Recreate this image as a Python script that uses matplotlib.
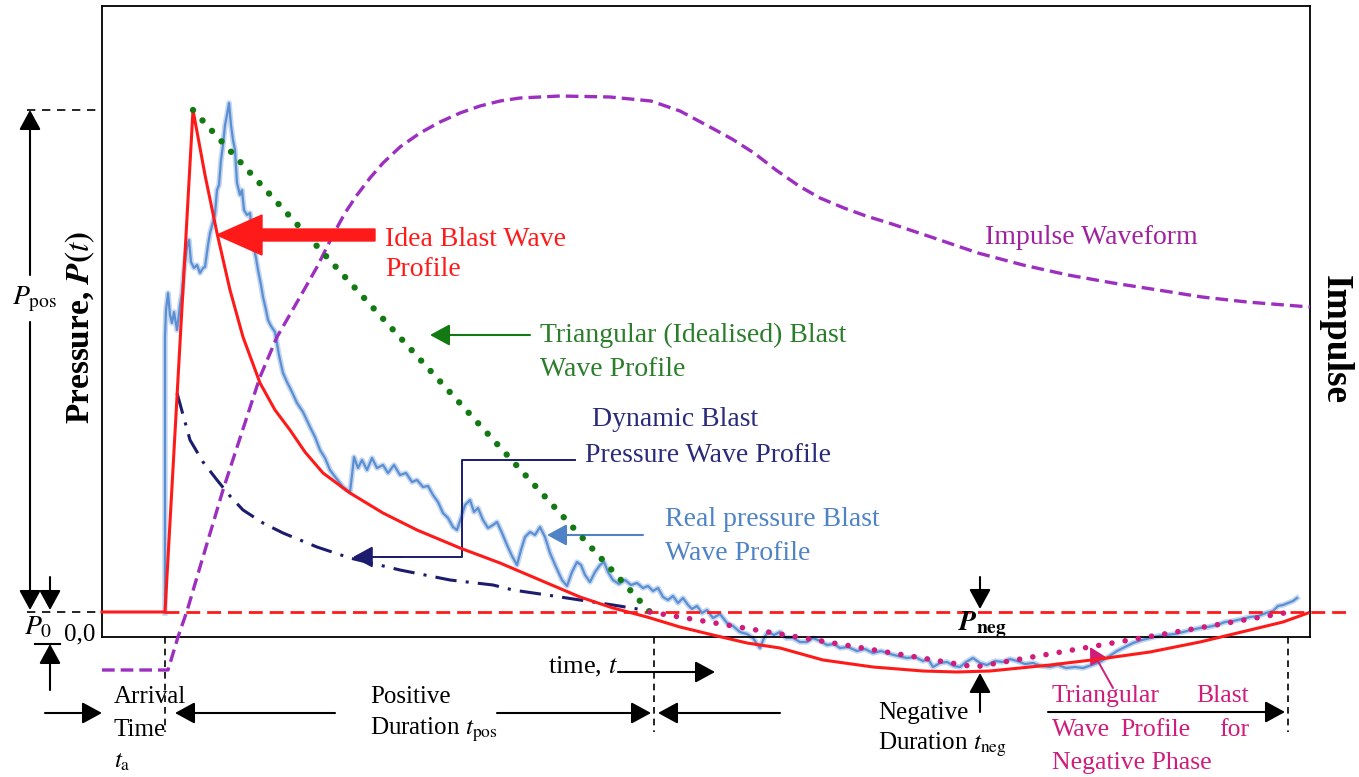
import matplotlib.pyplot as plt

plt.rcParams['font.family'] = 'Liberation Serif'
plt.rcParams['mathtext.fontset'] = 'stix'

# --- data (time t, pressure P in arbitrary units) ---
p0 = 0.25
t_arrival = 0.63
t_peak, p_peak = 0.91, 5.27
t_pos_end = 5.48
t_neg_min, p_neg_min = 8.73, -0.30
t_neg_end = 11.88

# ideal (Friedlander) blast wave
ideal_t = [0.0, 0.63, 0.63, 0.91, 1.03, 1.15, 1.28, 1.41, 1.58, 1.73, 1.88, 2.03, 2.21, 2.48,
           2.81, 3.15, 3.58, 3.98, 4.45, 4.78, 5.11, 5.45, 5.78, 6.11, 6.45, 6.78, 7.21,
           7.71, 8.21, 8.55, 8.88, 9.48, 9.98, 10.48, 10.98, 11.48, 11.81, 12.06]
ideal_p = [0.25, 0.25, 0.25, 5.27, 4.62, 4.04, 3.47, 3.00, 2.54, 2.27, 2.07, 1.85, 1.64, 1.44,
           1.24, 1.07, 0.89, 0.74, 0.54, 0.40, 0.29, 0.20, 0.10, 0.02, -0.06, -0.11, -0.23,
           -0.30, -0.34, -0.35, -0.34, -0.28, -0.22, -0.15, -0.05, 0.07, 0.15, 0.24]

# measured (real) pressure trace
real_t = [0.63, 0.63, 0.64, 0.66, 0.68, 0.70, 0.72, 0.75, 0.78, 0.80, 0.82, 0.85, 0.87, 0.89,
          0.92, 0.95, 0.98, 1.01, 1.03, 1.06, 1.08, 1.11, 1.13, 1.15, 1.17, 1.19, 1.21, 1.23,
          1.25, 1.27, 1.29, 1.31, 1.33, 1.35, 1.38, 1.40, 1.42, 1.45, 1.48, 1.51, 1.54, 1.56,
          1.59, 1.61, 1.64, 1.66, 1.69, 1.73, 1.77, 1.81, 1.85, 1.90, 1.95, 2.01, 2.08, 2.13,
          2.18, 2.23, 2.28, 2.34, 2.41, 2.45, 2.48, 2.50, 2.52, 2.56, 2.60, 2.65, 2.70, 2.75,
          2.81, 2.86, 2.92, 2.98, 3.04, 3.10, 3.15, 3.21, 3.26, 3.31, 3.36, 3.41, 3.46, 3.51,
          3.55, 3.59, 3.63, 3.68, 3.72, 3.76, 3.81, 3.86, 3.91, 3.95, 4.00, 4.05, 4.10, 4.15,
          4.19, 4.23, 4.28, 4.33, 4.38, 4.43, 4.48, 4.54, 4.60, 4.65, 4.70, 4.75, 4.79, 4.83,
          4.88, 4.93, 4.98, 5.02, 5.06, 5.11, 5.17, 5.23, 5.29, 5.35, 5.41, 5.46, 5.51, 5.56,
          5.61, 5.66, 5.71, 5.76, 5.81, 5.86, 5.90, 5.95, 6.00, 6.05, 6.11, 6.18, 6.25, 6.31,
          6.38, 6.45, 6.51, 6.55, 6.58, 6.62, 6.66, 6.72, 6.78, 6.84, 6.91, 6.98, 7.05, 7.11,
          7.18, 7.25, 7.32, 7.38, 7.46, 7.55, 7.63, 7.71, 7.79, 7.88, 7.96, 8.05, 8.13, 8.21,
          8.26, 8.31, 8.38, 8.45, 8.52, 8.58, 8.64, 8.71, 8.78, 8.85, 8.93, 9.01, 9.08, 9.15,
          9.23, 9.31, 9.39, 9.48, 9.56, 9.64, 9.73, 9.81, 9.90, 9.98, 10.06, 10.15, 10.23,
          10.31, 10.40, 10.48, 10.56, 10.64, 10.73, 10.81, 10.89, 10.98, 11.06, 11.15, 11.23,
          11.31, 11.40, 11.48, 11.56, 11.64, 11.71, 11.76, 11.81, 11.86, 11.91, 11.95]
real_p = [0.24, 3.00, 3.27, 3.44, 3.22, 3.14, 3.25, 3.07, 3.32, 3.44, 3.67, 3.90, 3.97, 3.75,
          3.69, 3.72, 3.64, 3.69, 3.70, 3.92, 4.04, 4.15, 4.23, 4.47, 4.52, 4.77, 4.92, 5.12,
          5.22, 5.34, 5.12, 4.97, 4.87, 4.54, 4.42, 4.47, 4.27, 4.22, 4.24, 3.94, 3.79, 3.67,
          3.52, 3.40, 3.27, 3.17, 3.11, 3.05, 2.82, 2.64, 2.55, 2.45, 2.34, 2.25, 2.10, 2.00,
          1.87, 1.79, 1.67, 1.59, 1.50, 1.47, 1.45, 1.62, 1.80, 1.69, 1.77, 1.67, 1.79, 1.69,
          1.72, 1.64, 1.72, 1.62, 1.64, 1.55, 1.57, 1.50, 1.51, 1.42, 1.35, 1.24, 1.19, 1.10,
          1.07, 1.19, 1.32, 1.37, 1.25, 1.29, 1.17, 1.09, 1.12, 1.15, 1.04, 0.92, 0.81, 0.72,
          0.87, 1.00, 1.05, 1.02, 1.10, 1.00, 0.84, 0.70, 0.57, 0.51, 0.65, 0.75, 0.72, 0.62,
          0.55, 0.65, 0.72, 0.75, 0.65, 0.57, 0.53, 0.57, 0.52, 0.54, 0.49, 0.51, 0.46, 0.49,
          0.40, 0.37, 0.41, 0.34, 0.39, 0.32, 0.28, 0.31, 0.24, 0.27, 0.19, 0.23, 0.14, 0.11,
          0.05, 0.03, -0.01, -0.07, -0.11, -0.01, 0.05, 0.02, 0.05, -0.01, -0.01, -0.05, -0.05, -0.01,
          -0.04, -0.08, -0.07, -0.11, -0.10, -0.14, -0.12, -0.16, -0.14, -0.17, -0.19, -0.21, -0.20, -0.24,
          -0.22, -0.30, -0.26, -0.25, -0.29, -0.30, -0.25, -0.21, -0.26, -0.28, -0.24, -0.25, -0.22, -0.24,
          -0.27, -0.26, -0.29, -0.30, -0.28, -0.31, -0.30, -0.31, -0.28, -0.25, -0.20, -0.14, -0.10,
          -0.06, -0.03, -0.01, 0.01, 0.02, 0.03, 0.05, 0.07, 0.09, 0.10, 0.12, 0.15,
          0.16, 0.18, 0.20, 0.21, 0.24, 0.26, 0.31, 0.32, 0.34, 0.36, 0.39]

# dynamic blast pressure
dyn_t = [0.75, 0.88, 1.01, 1.15, 1.28, 1.41, 1.61, 1.81, 2.15, 2.48, 2.98, 3.48, 3.91, 4.11,
         4.45, 4.78, 5.11, 5.48]
dyn_p = [2.44, 1.97, 1.75, 1.57, 1.41, 1.27, 1.14, 1.04, 0.90, 0.79, 0.67, 0.57, 0.52, 0.47,
         0.42, 0.37, 0.32, 0.26]

# impulse waveform
imp_t = [0.00, 0.66, 0.76, 0.85, 0.98, 1.21, 1.58, 1.75, 1.98, 2.15, 2.31, 2.43, 2.55, 2.68,
         2.81, 2.98, 3.18, 3.38, 3.58, 3.78, 3.98, 4.18, 4.58, 5.08, 5.49, 5.78, 6.08, 6.30,
         6.52, 6.74, 6.97, 7.18, 7.42, 7.64, 7.87, 8.32, 8.76, 9.21, 9.66, 10.11, 10.56, 11.00,
         11.45, 12.08]
imp_p = [-0.33, -0.33, 0.00, 0.26, 0.70, 1.47, 2.60, 3.00, 3.40, 3.70, 4.02, 4.24, 4.42, 4.59,
         4.74, 4.90, 5.04, 5.15, 5.24, 5.31, 5.36, 5.39, 5.41, 5.40, 5.36, 5.26, 5.10, 4.98,
         4.84, 4.67, 4.51, 4.39, 4.29, 4.21, 4.14, 3.99, 3.84, 3.72, 3.62, 3.54, 3.47, 3.40,
         3.35, 3.30]

# triangular (idealised) profiles
tri_pos_t = [t_peak, t_pos_end]
tri_pos_p = [p_peak, p0]
tri_neg_t = [t_pos_end, t_neg_min, t_neg_end]
tri_neg_p = [p0, p_neg_min, p0]

red = '#ff1a1a'
green = '#137a13'
blue = '#5b8fd3'
navy = '#1c1c6e'
purple = '#9d2fc0'
pink = '#d01c7a'

fig = plt.figure(figsize=(13.59, 7.77), dpi=100)
ax = fig.add_axes([102 / 1359, 140 / 777, 1208 / 1359, 631 / 777])
ax.set_xlim(0, 12.08)
ax.set_ylim(0, 6.31)
ax.set_xticks([])
ax.set_yticks([])
for s in ax.spines.values():
    s.set_linewidth(1.3)

# curves
ax.plot(real_t, real_p, color=blue, lw=4, alpha=0.35, clip_on=False, zorder=2)
ax.plot(real_t, real_p, color=blue, lw=1.6, clip_on=False, zorder=2)
ax.plot(dyn_t, dyn_p, color=navy, lw=2.2, ls=(0, (7, 3, 1, 3)), clip_on=False, zorder=3)
ax.plot(imp_t, imp_p, color=purple, lw=2.4, ls=(0, (3.8, 1.8)), clip_on=False, zorder=3)
ax.plot([t_arrival, 12.48], [p0, p0], color=red, lw=2, ls=(0, (5, 2.5)), clip_on=False, zorder=3)
ax.plot(ideal_t, ideal_p, color=red, lw=2.2, clip_on=False, zorder=4)
ax.plot(ideal_t[:2], ideal_p[:2], color=red, lw=1.2, clip_on=False, zorder=4)
ax.plot(tri_pos_t, tri_pos_p, color=green, lw=4.6, ls=(0, (0.01, 2.2)), dash_capstyle='round',
        clip_on=False, zorder=5)
ax.plot(tri_neg_t, tri_neg_p, color=pink, lw=4, ls=(0, (0.01, 2.4)), dash_capstyle='round',
        clip_on=False, zorder=5)


def arrow(tail, tip, color='black', lw=1.5, ms=22, hl=0.55, hw=0.3):
    ax.annotate('', xy=tip, xytext=tail, annotation_clip=False,
                arrowprops=dict(arrowstyle=f'-|>,head_length={hl},head_width={hw}',
                                color=color, lw=lw, mutation_scale=ms, shrinkA=0, shrinkB=0))


def txt(x, y, s, color='black', size=20, **kw):
    ax.text(x, y, s, color=color, fontsize=size, va='center', ha=kw.pop('ha', 'left'),
            clip_on=False, **kw)


# left guides
ax.plot([-0.75, 0], [p_peak, p_peak], color='black', lw=1.2, ls=(0, (5, 4)), clip_on=False)
ax.plot([-0.75, 0], [p0, p0], color='black', lw=1.2, ls=(0, (5, 4)), clip_on=False)
arrow((-0.72, 3.62), (-0.72, p_peak))
arrow((-0.72, 3.15), (-0.72, p0 + 0.02))
txt(-0.90, 3.38, r'$P_{\mathrm{pos}}$', size=20)
arrow((-0.52, 0.60), (-0.52, p0 + 0.02))
arrow((-0.52, -0.53), (-0.52, -0.07))
ax.plot([-0.67, -0.42], [-0.07, -0.07], color='black', lw=1.5, clip_on=False)
txt(-0.78, 0.09, r'$P_0$', size=20)
txt(-0.38, 0.03, '0,0', size=18)
txt(-0.22, 3.10, r'Pressure, $\mathbfit{P}\mathbf{(}\mathit{t}\mathbf{)}$', size=24,
    ha='center', rotation=90, fontweight='bold')
txt(12.33, 2.97, 'Impulse', size=27, ha='center', rotation=-90, fontweight='bold')

# annotations inside
ax.arrow(2.73, 4.02, -1.58, 0, width=0.12, head_width=0.40, head_length=0.45,
         length_includes_head=True, color=red, zorder=6, clip_on=False)
txt(2.83, 3.97, 'Idea Blast Wave', color=red)
txt(2.83, 3.67, 'Profile', color=red)

arrow((4.28, 3.02), (3.28, 3.02), color=green, lw=1.5)
txt(4.38, 3.02, 'Triangular (Idealised) Blast', color='#2a7d2a')
txt(4.38, 2.67, 'Wave Profile', color='#2a7d2a')

ax.plot([4.73, 3.60, 3.60, 2.80], [1.77, 1.77, 0.80, 0.80], color=navy, lw=1.4, clip_on=False)
arrow((3.0, 0.80), (2.51, 0.80), color=navy, lw=1.4)
txt(4.90, 2.17, 'Dynamic Blast', color='#2a2a7a')
txt(4.83, 1.82, 'Pressure Wave Profile', color='#2a2a7a')

arrow((5.41, 1.02), (4.45, 1.02), color='#4f83c6', lw=1.5)
txt(5.63, 1.17, 'Real pressure Blast', color='#4f83c6')
txt(5.63, 0.84, 'Wave Profile', color='#4f83c6')

txt(8.83, 3.99, 'Impulse Waveform', color='#a0229e')

# negative phase
arrow((8.78, 0.60), (8.78, p0 + 0.03))
txt(8.80, 0.12, r'$\mathbfit{P}_{\mathbf{neg}}$', size=20, ha='center')
arrow((8.78, -0.75), (8.78, -0.36))
txt(7.76, -0.76, 'Negative', size=18)
txt(7.76, -1.08, r'Duration $t_{\mathrm{neg}}$', size=18)

# time axis annotations
for tv in [t_arrival, 5.52, 11.86]:
    ax.plot([tv, tv], [0, -0.95], color='black', lw=1.2, ls=(0, (4, 3)), clip_on=False)
txt(4.46, -0.30, r'time, $t$', size=19)
arrow((5.16, -0.35), (6.13, -0.35))

arrow((-0.57, -0.76), (0, -0.76))
arrow((2.33, -0.76), (0.73, -0.76))
txt(0.12, -0.60, 'Arrival', size=18)
txt(0.12, -0.93, 'Time', size=18)
txt(0.12, -1.25, r'$t_{\mathrm{a}}$', size=18)
txt(2.68, -0.60, 'Positive', size=18)
txt(2.68, -0.93, r'Duration $t_{\mathrm{pos}}$', size=18)
arrow((3.95, -0.76), (5.49, -0.76))
arrow((6.78, -0.76), (5.56, -0.76))

arrow((9.46, -0.75), (11.83, -0.75))
arrow((10.11, -0.51), (9.88, -0.10), color=pink, lw=1.4, ms=18)
txt(9.50, -0.59, 'Triangular', color=pink, size=18.5)
txt(11.47, -0.59, 'Blast', color=pink, size=18.5, ha='right')
txt(9.50, -0.93, 'Wave', color=pink, size=18.5)
txt(10.18, -0.93, 'Profile', color=pink, size=18.5)
txt(11.47, -0.93, 'for', color=pink, size=18.5, ha='right')
txt(9.50, -1.26, 'Negative Phase', color=pink, size=18.5)

fig.savefig('out.png', dpi=100)
